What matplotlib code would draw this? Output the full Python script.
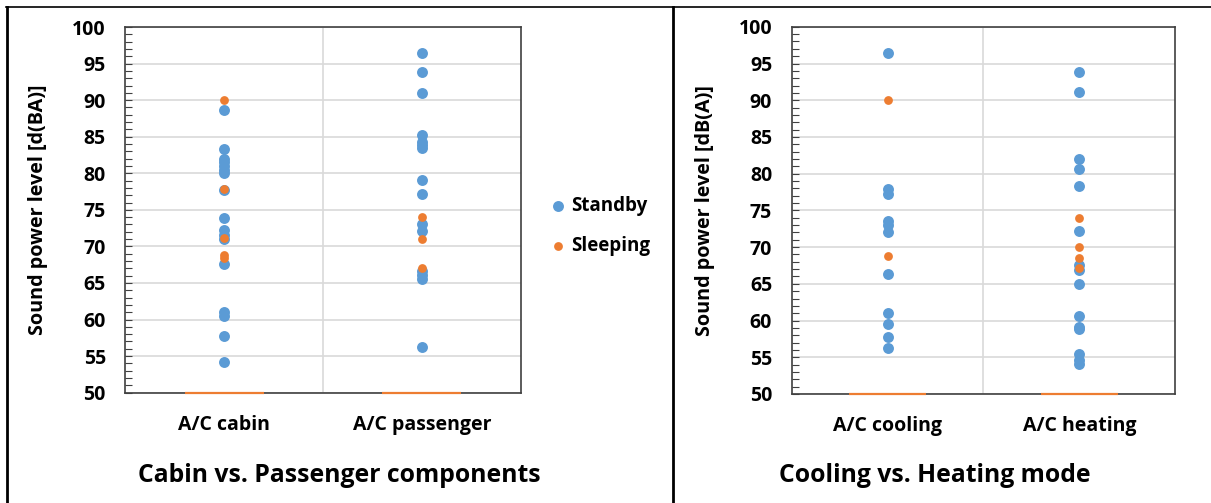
import matplotlib
matplotlib.use("Agg")
import matplotlib.pyplot as plt
from matplotlib.lines import Line2D

plt.rcParams['font.family'] = ['Open Sans', 'DejaVu Sans']
plt.rcParams['font.weight'] = 'bold'

# data
left_cats = ["A/C cabin", "A/C passenger"]
right_cats = ["A/C cooling", "A/C heating"]

cabin_standby = [88.6, 83.3, 82.0, 81.5, 81.0, 80.5, 80.0, 77.7, 73.9, 72.2, 71.6, 71.0,
                 67.6, 61.0, 60.5, 57.7, 54.2]
cabin_sleeping = [90.0, 77.9, 71.2, 68.8, 68.4]
passenger_standby = [96.4, 93.9, 91.0, 85.3, 84.3, 83.9, 83.4, 79.1, 77.2, 73.0, 72.1,
                     66.7, 66.1, 65.6, 56.3]
passenger_sleeping = [74.0, 71.0, 67.1]

cooling_standby = [96.5, 77.9, 77.3, 73.5, 73.0, 72.1, 66.4, 61.0, 59.5, 57.7, 56.3]
cooling_sleeping = [90.1, 68.8]
heating_standby = [93.8, 91.1, 82.0, 80.6, 78.3, 72.2, 67.6, 66.9, 65.0, 60.6, 59.1,
                   58.8, 55.4, 54.6, 54.1]
heating_sleeping = [74.0, 70.0, 68.5, 67.1]

blue = '#5B9BD5'
orange = '#ED7D31'
grid_c = '#D9D9D9'
spine_c = '#404040'

fig = plt.figure(figsize=(12.11, 5.03), dpi=100)


def panel(ax, cats, standby, sleeping, ylabel):
    for i, (s, z) in enumerate(zip(standby, sleeping)):
        x = i + 1
        ax.scatter([x] * len(s), s, s=62, color=blue, zorder=3, linewidths=0,
                   label='Standby' if i == 0 else None)
        ax.scatter([x] * len(z), z, s=40, color=orange, zorder=4, linewidths=0,
                   label='Sleeping' if i == 0 else None)
        # flat orange stub on the axis floor
        ax.hlines(50, x - 0.2, x + 0.2, color=orange, lw=1.6, zorder=5, clip_on=False)
    ax.set_xlim(0.5, 2.5)
    ax.set_ylim(50, 100)
    ax.set_yticks(range(50, 101, 5))
    ax.set_yticks(range(50, 101, 1), minor=True)
    ax.set_xticks([1, 2])
    ax.set_xticklabels(cats)
    ax.tick_params(axis='y', which='both', direction='in', length=5, width=0.8,
                   color=spine_c, labelsize=14, pad=14)
    ax.tick_params(axis='x', length=0, labelsize=14, pad=16)
    ax.grid(axis='y', which='major', color=grid_c, lw=1.2, zorder=0)
    ax.axvline(1.5, color=grid_c, lw=1.2, zorder=0)
    for sp in ax.spines.values():
        sp.set_color(spine_c)
        sp.set_linewidth(1.2)
    ax.set_axisbelow(True)
    ax.set_ylabel(ylabel, fontsize=14.2, fontweight='bold')


ax1 = fig.add_axes([0.1035, 0.2193, 0.3265, 0.727])
panel(ax1, left_cats, [cabin_standby, passenger_standby],
      [cabin_sleeping, passenger_sleeping], 'Sound power level [d(BA)]')
ax1.yaxis.set_label_coords(-0.196, 0.5)

ax2 = fig.add_axes([0.6537, 0.2167, 0.3168, 0.730])
panel(ax2, right_cats, [cooling_standby, heating_standby],
      [cooling_sleeping, heating_sleeping], 'Sound power level [dB(A)]')
ax2.yaxis.set_label_coords(-0.201, 0.5)

ax1.legend(loc='center left', bbox_to_anchor=(0.4543, 0.5507), bbox_transform=fig.transFigure,
           frameon=False, borderpad=0, borderaxespad=0, handlelength=0.8,
           handletextpad=0.3, labelspacing=1.1, scatterpoints=1,
           prop={'size': 13.5, 'weight': 'bold'})

fig.text(0.28, 0.0423, 'Cabin vs. Passenger components', ha='center', va='baseline',
         fontsize=17.8, fontweight='bold')
fig.text(0.772, 0.0423, 'Cooling vs. Heating mode', ha='center', va='baseline',
         fontsize=17.8, fontweight='bold')

# frame lines around the two panels
fig.add_artist(Line2D([0.005, 1.0], [0.986, 0.986], color='black', lw=1.2,
                      transform=fig.transFigure))
fig.add_artist(Line2D([0.0054, 0.0054], [0.0, 0.986], color='black', lw=2,
                      transform=fig.transFigure))
fig.add_artist(Line2D([0.5561, 0.5561], [0.0, 0.986], color='black', lw=2,
                      transform=fig.transFigure))

fig.savefig('out.png', dpi=100)
